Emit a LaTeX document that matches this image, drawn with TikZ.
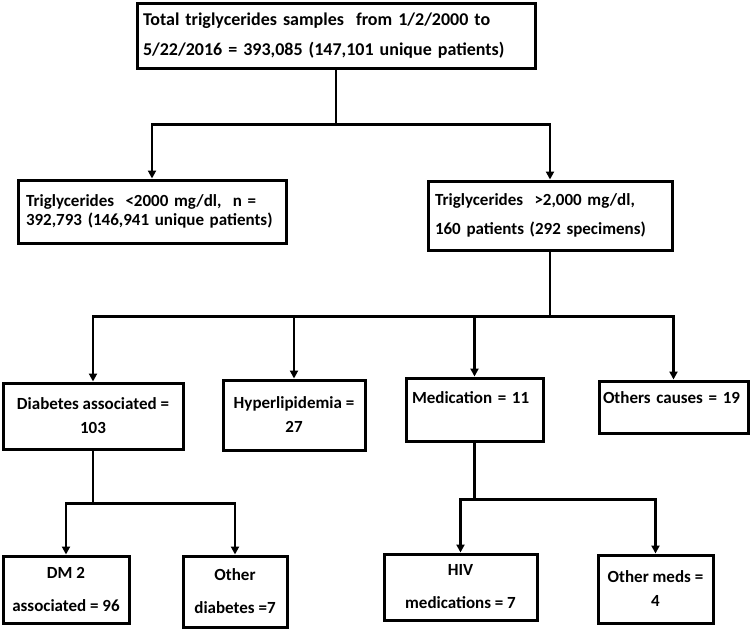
\documentclass[tikz,border=0pt]{standalone}
\usepackage{fontspec}
\setmainfont{Carlito}
\usetikzlibrary{arrows.meta}
\begin{document}
\begin{tikzpicture}[x=1pt,y=-1pt,
  box/.style={draw, line width=3pt, inner ysep=0pt, inner xsep=6pt},
  lbox/.style={box, align=left},
  cbox/.style={box, align=center},
  fs/.style 2 args={font=\bfseries\fontsize{#1}{#2}\selectfont},
  conn/.style={line width=2.5pt},
  arr/.style={conn, -{Triangle[length=8pt,width=8pt]}}]
\useasboundingbox[fill=white] (0,0) rectangle (750,629);

% top
\node[lbox, fs={18}{30}, text width=386pt, minimum height=65pt] (top) at (336,35.5)
  {Total triglycerides samples\ \ from 1/2/2000 to\\5/22/2016 = 393,085 (147,101 unique patients)};

% second level
\node[lbox, fs={17}{19}, inner xsep=8pt, text width=252pt, minimum height=63pt] (lo) at (152,211.5)
  {Triglycerides\ \ <2000 mg/dl,\ \ n =\\392,793 (146,941 unique patients)};
\node[lbox, fs={17}{29}, inner xsep=7pt, text width=230pt, minimum height=69pt] (hi) at (550,215.5)
  {Triglycerides\ \ >2,000 mg/dl,\\160 patients (292 specimens)};

% third level
\node[cbox, fs={17}{24}, minimum width=180pt, minimum height=66pt] (diab) at (93,416)
  {Diabetes associated =\\103};
\node[cbox, fs={17}{24}, minimum width=142pt, minimum height=70pt] (hyper) at (294,415)
  {Hyperlipidemia =\\27};
\node[lbox, fs={17}{24}, text width=125pt, minimum height=63pt] (med) at (474.5,409.5)
  {Medication = 11\\\mbox{}};
\node[lbox, fs={17}{18}, inner xsep=4pt, text width=141pt, minimum height=52pt] (oth) at (673.5,407)
  {\mbox{Others causes = 19}\\\mbox{}};

% fourth level
\node[cbox, fs={17}{33}, minimum width=126pt, minimum height=67pt] (dm2) at (66,589.5)
  {DM 2\\associated = 96};
\node[cbox, fs={17}{33}, minimum width=104pt, minimum height=71pt] (odiab) at (235,591.5)
  {Other\\diabetes =7};
\node[cbox, fs={17}{33}, minimum width=153pt, minimum height=66pt] (hiv) at (460.5,587)
  {HIV\\medications = 7};
\node[cbox, fs={17}{24}, minimum width=115pt, minimum height=68pt] (omeds) at (655.5,589)
  {Other meds =\\4};

% connectors
\draw[arr] (top.south) -- ++(0,55) -| (lo.north);
\draw[arr] (top.south) -- ++(0,55) -| (hi.north);

\draw[arr] (hi.south) -- ++(0,65) -| (diab.north);
\draw[arr] (hi.south) -- ++(0,65) -| (hyper.north);
\draw[arr] (hi.south) -- ++(0,65) -| (med.north);
\draw[arr] (hi.south) -- ++(0,65) -| (oth.north);

\draw[arr] (diab.south) -- ++(0,53) -| (dm2.north);
\draw[arr] (diab.south) -- ++(0,53) -| (odiab.north);

\draw[arr] (med.south) -- ++(0,57) -| (hiv.north);
\draw[arr] (med.south) -- ++(0,57) -| (omeds.north);
\end{tikzpicture}
\end{document}
